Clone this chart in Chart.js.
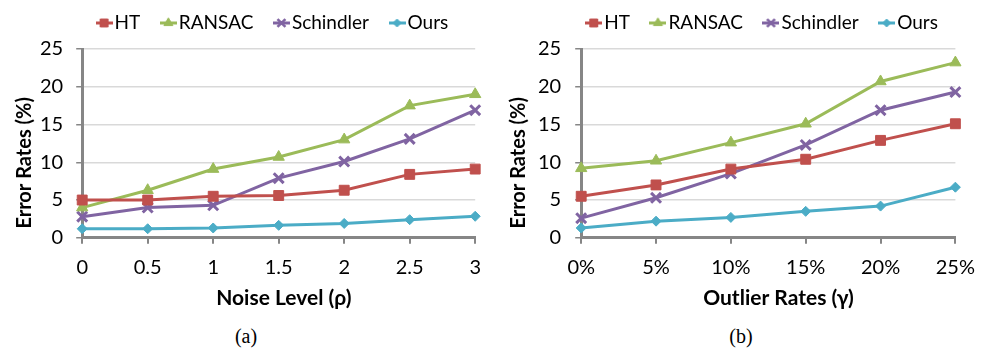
<!DOCTYPE html>
<html>
<head>
<meta charset="utf-8">
<script src="https://cdn.jsdelivr.net/npm/chart.js@4"></script>
<style>
  body { margin: 0; background: #fff; width: 987px; height: 352px; position: relative; overflow: hidden; }
  .panel { position: absolute; top: 0; height: 315px; }
  .caption { position: absolute; top: 325px; font-family: "Liberation Serif", serif; font-size: 20px; color: #000; transform: translateX(-50%); }
</style>
</head>
<body>
<div class="panel" style="left:0; width:493px;"><canvas id="chart-a"></canvas></div>
<div class="panel" style="left:493px; width:494px;"><canvas id="chart-b"></canvas></div>
<div class="caption" style="left:246px;">(a)</div>
<div class="caption" style="left:741px;">(b)</div>
<script>
// categories
const noiseLevels = ['0', '0.5', '1', '1.5', '2', '2.5', '3'];
const outlierRates = ['0%', '5%', '10%', '15%', '20%', '25%'];

// (a) error rates vs noise level
const htNoise        = [5.0, 5.0, 5.5, 5.6, 6.3, 8.4, 9.1];
const ransacNoise    = [4.0, 6.3, 9.1, 10.7, 13.0, 17.5, 19.0];
const schindlerNoise = [2.8, 4.0, 4.3, 7.9, 10.1, 13.1, 16.9];
const oursNoise      = [1.2, 1.2, 1.3, 1.65, 1.9, 2.4, 2.85];

// (b) error rates vs outlier rate
const htOutlier        = [5.5, 7.0, 9.1, 10.4, 12.9, 15.1];
const ransacOutlier    = [9.2, 10.2, 12.6, 15.1, 20.7, 23.2];
const schindlerOutlier = [2.6, 5.3, 8.5, 12.3, 16.9, 19.3];
const oursOutlier      = [1.3, 2.2, 2.7, 3.5, 4.2, 6.7];

const yTicks = [0, 5, 10, 15, 20, 25];

const FONT = 'Lato, "Open Sans", sans-serif';
const AXIS_GREY = '#868686';

const seriesStyle = [
    { label: 'HT', color: '#C0504D', point: 'rect', radius: 7 },
    { label: 'RANSAC', color: '#9BBB59', point: 'triangle', radius: 6.5 },
    { label: 'Schindler', color: '#8064A2', point: 'crossRot', radius: 7 },
    { label: 'Ours', color: '#4BACC6', point: 'rectRot', radius: 5 }
];

// line + marker key for the legend (Excel style)
function legendIcon(s) {
    const c = document.createElement('canvas');
    c.width = 17; c.height = 14;
    const ctx = c.getContext('2d');
    ctx.strokeStyle = s.color;
    ctx.fillStyle = s.color;
    ctx.lineWidth = 3;
    ctx.beginPath(); ctx.moveTo(0, 7); ctx.lineTo(17, 7); ctx.stroke();
    ctx.lineWidth = s.point === 'crossRot' ? 2.5 : 1;
    Chart.helpers.drawPoint(ctx, { pointStyle: s.point, radius: s.radius * 0.8, borderWidth: ctx.lineWidth }, 8.5, 7);
    return c;
}

// legend: a bit more room under it, and centred over the plot area
const legendTweak = {
    id: 'legendTweak',
    beforeLayout(chart) {
        const lg = chart.legend;
        if (lg && !lg._extraFit) {
            const fit = lg.fit.bind(lg);
            lg.fit = function () { fit(); this.height += 6.5; };
            lg._extraFit = true;
        }
    },
    afterLayout(chart) {
        const lg = chart.legend, ca = chart.chartArea;
        const dx = (ca.left + ca.right) / 2 - (lg.left + lg.right) / 2 - 3;
        lg.left += dx; lg.right += dx;
    }
};

function makeDatasets(values) {
    return values.map((v, i) => {
        const s = seriesStyle[i];
        return {
            label: s.label,
            data: v,
            borderColor: s.color,
            backgroundColor: s.color,
            borderWidth: 3,
            pointStyle: s.point,
            pointRadius: s.radius,
            pointBorderWidth: s.point === 'crossRot' ? 3 : 1,
            pointBackgroundColor: s.color,
            pointBorderColor: s.color,
            tension: 0
        };
    });
}

function makeChart(id, labels, values, xTitle, opt) {
    return new Chart(document.getElementById(id), {
        type: 'line',
        data: { labels: labels, datasets: makeDatasets(values) },
        plugins: [legendTweak],
        options: {
            responsive: true,
            maintainAspectRatio: false,
            animation: false,
            layout: { padding: { left: opt.padLeft, right: opt.padRight, top: -24, bottom: 0 } },
            plugins: {
                tooltip: { enabled: false },
                legend: {
                    position: 'top',
                    labels: {
                        usePointStyle: true,
                        pointStyleWidth: 2,
                        padding: 27,
                        color: '#000',
                        font: { family: FONT, size: 19 },
                        generateLabels: function (chart) {
                            const items = Chart.defaults.plugins.legend.labels.generateLabels(chart);
                            items.forEach((it, i) => { it.pointStyle = legendIcon(seriesStyle[i]); });
                            return items;
                        }
                    }
                }
            },
            scales: {
                x: {
                    offset: false,
                    border: { color: AXIS_GREY, width: 3 },
                    grid: { drawOnChartArea: false, drawTicks: true, tickLength: 6, color: AXIS_GREY, lineWidth: 2 },
                    ticks: { color: '#000', font: { family: FONT, size: 20 }, padding: 12, maxRotation: 0 },
                    title: { display: true, text: xTitle, color: '#000', font: { family: FONT, size: 21, weight: 'bold' }, padding: { top: -6, bottom: 4 } }
                },
                y: {
                    min: 0, max: 25,
                    border: { color: AXIS_GREY, width: 3 },
                    grid: { color: '#D9D9D9', lineWidth: 1.5, tickLength: 6, tickColor: AXIS_GREY },
                    afterBuildTicks: axis => { axis.ticks = yTicks.map(v => ({ value: v })); },
                    afterFit: axis => { axis.paddingTop = 49; },
                    ticks: { color: '#000', font: { family: FONT, size: 20 }, padding: opt.tickPad },
                    title: { display: true, text: 'Error Rates (%)        ', color: '#000', font: { family: FONT, size: 20, weight: 'bold' }, padding: { top: 0, bottom: opt.titleGap } }
                }
            }
        }
    });
}

const chartA = makeChart('chart-a', noiseLevels,
    [htNoise, ransacNoise, schindlerNoise, oursNoise], '  Noise Level (ρ)',
    { padLeft: 13, padRight: 17, tickPad: 13, titleGap: -10 });
const chartB = makeChart('chart-b', outlierRates,
    [htOutlier, ransacOutlier, schindlerOutlier, oursOutlier], '    Outlier Rates (γ)',
    { padLeft: 14, padRight: 12, tickPad: 14, titleGap: -7 });
</script>
</body>
</html>
